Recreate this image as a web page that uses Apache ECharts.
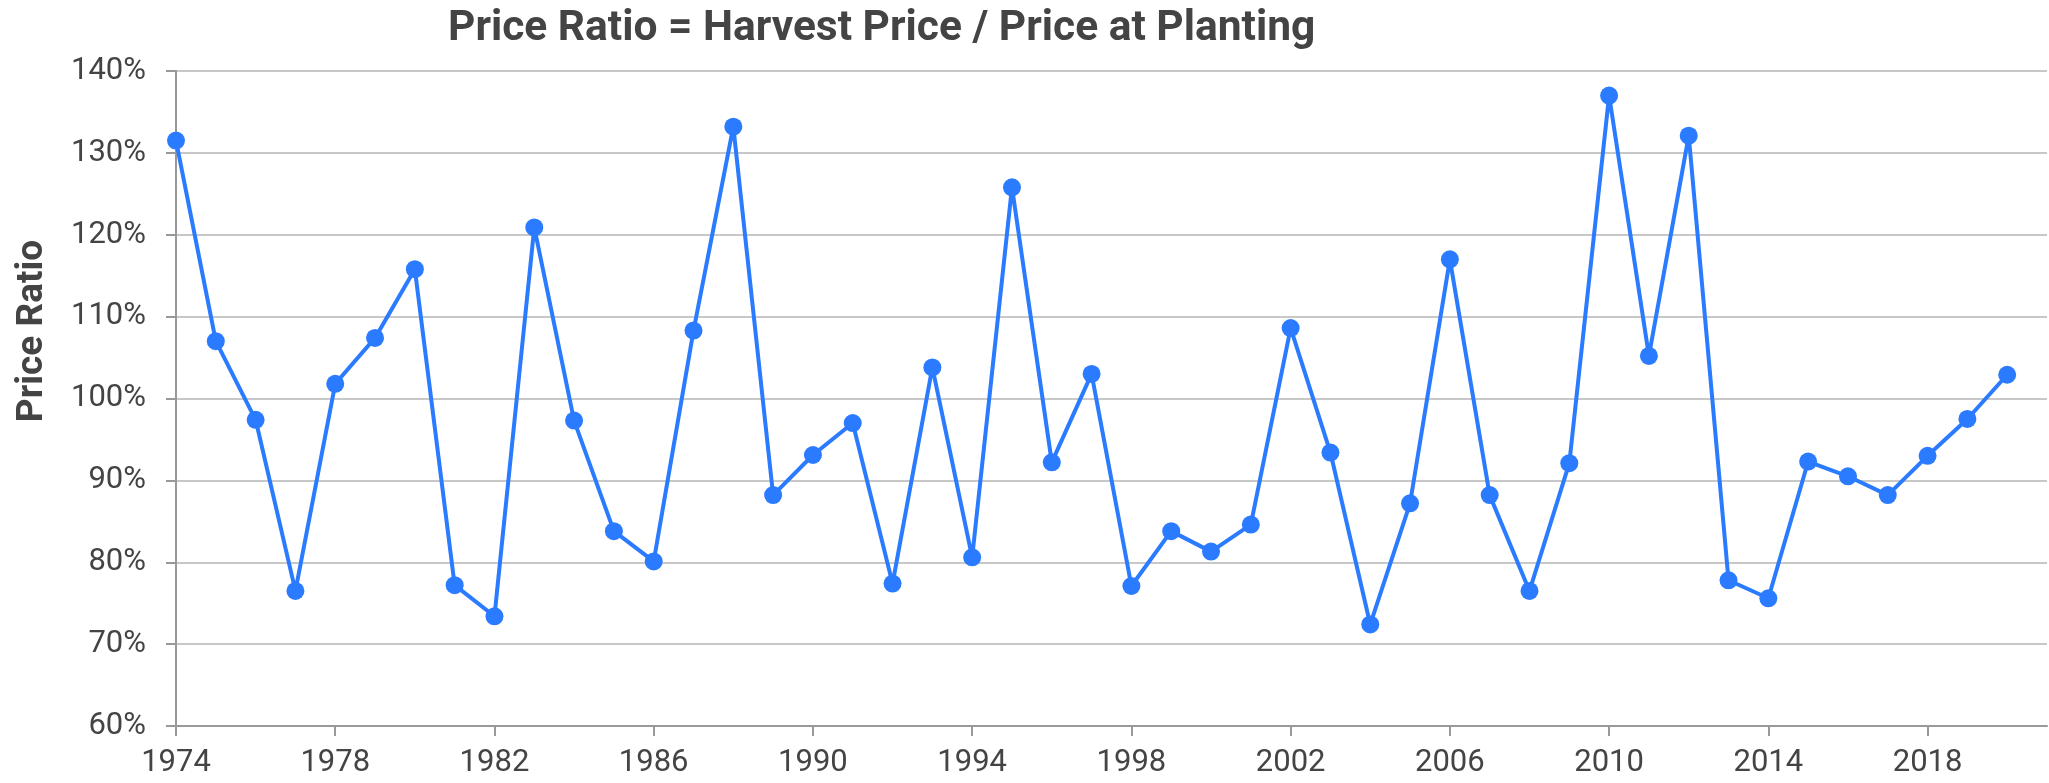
<!DOCTYPE html>
<html lang="en">
<head>
    <meta charset="UTF-8">
    <title>Price Ratio</title>
    <script src="https://cdn.jsdelivr.net/npm/echarts@6/dist/echarts.min.js"></script>
</head>
<style>
html,body{margin: 0;padding: 0;background: #fff}
#chartBox{width: 2049px;height: 783px}
</style>
<body>
    <div id="chartBox"></div>
</body>
<script>
// years on the x axis (2021 is only the axis end, no point)
const years = ['1974','1975','1976','1977','1978','1979','1980','1981','1982','1983',
    '1984','1985','1986','1987','1988','1989','1990','1991','1992','1993',
    '1994','1995','1996','1997','1998','1999','2000','2001','2002','2003',
    '2004','2005','2006','2007','2008','2009','2010','2011','2012','2013',
    '2014','2015','2016','2017','2018','2019','2020','2021'];

// harvest price / price at planting, in %
const priceRatio = [131.5, 107.0, 97.4, 76.5, 101.8, 107.4, 115.8, 77.2, 73.4, 120.9,
    97.3, 83.8, 80.1, 108.3, 133.2, 88.2, 93.1, 97.0, 77.4, 103.8,
    80.6, 125.8, 92.2, 103.0, 77.1, 83.8, 81.3, 84.6, 108.6, 93.4,
    72.4, 87.2, 117.0, 88.2, 76.5, 92.1, 137.0, 105.2, 132.1, 77.8,
    75.6, 92.3, 90.5, 88.2, 93.0, 97.5, 102.9, null];

const yTicks = {min: 60, max: 140, step: 10};

const textColor = '#444';
const fontName = 'Roboto';

function ratioOptions(){
    return {
        backgroundColor: '#fff',
        animation: false,
        title:{
            text: 'Price Ratio = Harvest Price / Price at Planting',
            left: 443,
            top: 3,
            textStyle:{
                fontFamily: fontName,
                fontWeight: 'bold',
                fontSize: 42.5,
                color: textColor,
            }
        },
        graphic:[
            {
                type: 'text',
                x: 33,
                y: 331,
                rotation: Math.PI / 2,
                style:{
                    text: 'Price Ratio',
                    fontFamily: fontName,
                    fontWeight: 'bold',
                    fontSize: 37,
                    fill: textColor,
                    align: 'center',
                    verticalAlign: 'middle',
                }
            }
        ],
        grid:{
            left: 176,
            right: 2,
            top: 71,
            bottom: 57,
        },
        xAxis:{
            type: 'category',
            data: years,
            boundaryGap: false,
            axisLine:{lineStyle:{color: '#999', width: 2}},
            axisTick:{show: true, interval: 3, length: 10, lineStyle:{color: '#999', width: 2}},
            axisLabel:{
                interval: 3,
                margin: 22,
                fontFamily: fontName,
                fontSize: 31,
                color: textColor,
            },
            splitLine:{show: false},
        },
        yAxis:{
            type: 'value',
            min: yTicks.min,
            max: yTicks.max,
            interval: yTicks.step,
            axisLine:{show: true, lineStyle:{color: '#999', width: 2}},
            axisTick:{show: true, length: 10, lineStyle:{color: '#999', width: 2}},
            axisLabel:{
                formatter: '{value}%',
                margin: 30,
                fontFamily: fontName,
                fontSize: 31,
                color: textColor,
            },
            splitLine:{lineStyle:{color: '#c8c8c8', width: 2}},
        },
        series:[
            {
                type: 'line',
                name: 'Price Ratio',
                data: priceRatio,
                symbol: 'circle',
                symbolSize: 18,
                showAllSymbol: true,
                connectNulls: false,
                lineStyle:{color: '#2a7bff', width: 4},
                itemStyle:{color: '#2a7bff'},
            }
        ]
    };
}

let chartObj = echarts.init(document.getElementById('chartBox'));
chartObj.setOption(ratioOptions());
</script>
</html>
